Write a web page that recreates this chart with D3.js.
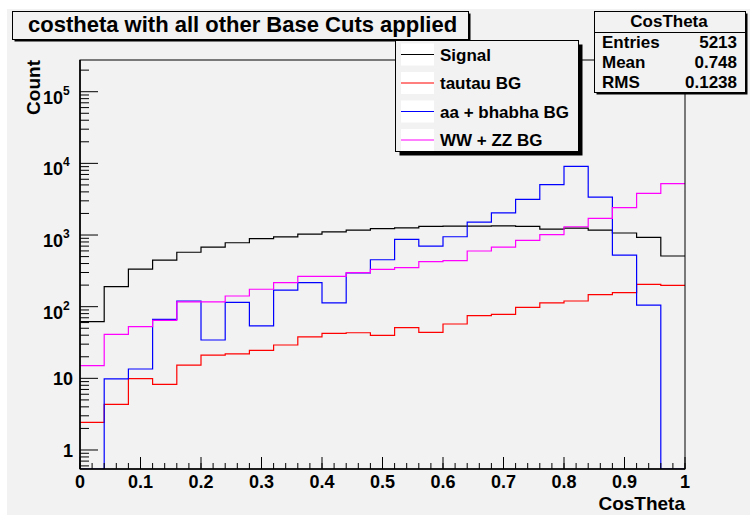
<!DOCTYPE html>
<html>
<head>
<meta charset="utf-8">
<script src="https://cdnjs.cloudflare.com/ajax/libs/d3/7.8.5/d3.min.js"></script>
<style>
	body { margin: 0; background: #fff; }
	text { font-family: "Liberation Sans", Arial, sans-serif; font-weight: bold; fill: #000; }
</style>
</head>
<body>
<div id="container"></div>
<script>

// bin edges of the CosTheta histograms
var binEdges = [0, 0.04, 0.08, 0.12, 0.16, 0.2, 0.24, 0.28, 0.32, 0.36, 0.4, 0.44, 0.48,
	0.52, 0.56, 0.6, 0.64, 0.68, 0.72, 0.76, 0.8, 0.84, 0.88, 0.92, 0.96, 1];

var signal = [62, 190, 335, 447, 575, 680, 780, 890, 940, 1030, 1110, 1170, 1230,
	1260, 1320, 1335, 1335, 1340, 1320, 1210, 1250, 1170, 1067, 930, 510];
var tautau = [2.43, 4.34, 9.9, 8.26, 15.3, 21.1, 21.9, 24.6, 29.2, 38, 42.5, 43.3, 39.8,
	50.9, 43.8, 57.3, 74.8, 78.2, 98, 113, 120, 147, 157, 205, 198];
var aabhabha = [0, 9.8, 13.5, 66.5, 120, 34.3, 115, 53.8, 170, 216, 113, 295, 452,
	870, 701, 946, 1515, 2040, 3150, 5050, 9100, 3390, 525, 105, 0];
var wwzz = [15, 41, 52.6, 64.5, 117, 117, 141, 175, 216, 264, 264, 298, 331,
	350, 425, 440, 598, 680, 842, 1010, 1305, 1710, 2410, 3820, 5200];

var legendNames = ["Signal", "tautau BG", "aa + bhabha BG", "WW + ZZ BG"];
var xTicks = [0, 0.1, 0.2, 0.3, 0.4, 0.5, 0.6, 0.7, 0.8, 0.9, 1];
var xTickLabels = ["0", "0.1", "0.2", "0.3", "0.4", "0.5", "0.6", "0.7", "0.8", "0.9", "1"];
var yTicks = [1, 10, 100, 1000, 10000, 100000];
var yTickExp = ["", "", "2", "3", "4", "5"];
var statNames = ["Entries", "Mean", "RMS"];
var statValues = ["5213", "0.748", "0.1238"];

function costheta_plot(){

	var W = 750, H = 515;
	var frame = {left: 80, right: 685, top: 60, bottom: 469};
	var bg = "#f2f2f2";

	var svg = d3.select("#container")
		.append("svg")
		.attr("width", W)
		.attr("height", H);

	// pad
	svg.append("rect")
		.attr("x", 7).attr("y", 9)
		.attr("width", W - 7).attr("height", H - 9)
		.attr("fill", bg);

	var x = d3.scaleLinear().domain([0, 1]).range([frame.left, frame.right]);
	var y = d3.scaleLog().domain([0.543, 2.77e5]).range([frame.bottom, frame.top]);

	svg.append("clipPath").attr("id", "clip")
		.append("rect")
		.attr("x", frame.left).attr("y", frame.top)
		.attr("width", frame.right - frame.left)
		.attr("height", frame.bottom - frame.top);

	var series = [
		{values: signal, color: "#000000"},
		{values: tautau, color: "#ff0000"},
		{values: aabhabha, color: "#0000ff"},
		{values: wwzz, color: "#ff00ff"}
	];

	var step = d3.line()
		.curve(d3.curveStepAfter)
		.x(function(d) { return x(d[0]); })
		.y(function(d) { return y(Math.max(d[1], 0.543)); });

	var plot = svg.append("g").attr("clip-path", "url(#clip)");

	series.forEach(function(s) {
		var pts = s.values.map(function(v, i) { return [binEdges[i], v]; });
		pts.push([binEdges[binEdges.length - 1], s.values[s.values.length - 1]]);
		plot.append("path")
			.datum(pts)
			.attr("d", step)
			.attr("fill", "none")
			.attr("stroke", s.color)
			.attr("stroke-width", 1.2);
	});

	// frame
	svg.append("rect")
		.attr("x", frame.left).attr("y", frame.top)
		.attr("width", frame.right - frame.left)
		.attr("height", frame.bottom - frame.top)
		.attr("fill", "none")
		.attr("stroke", "#000")
		.attr("stroke-width", 1);

	// x axis ticks, pointing up
	var xMinor = d3.range(0, 51).map(function(i) { return i / 50; });
	svg.append("g").selectAll("line")
		.data(xMinor)
		.enter().append("line")
		.attr("x1", function(d) { return x(d); })
		.attr("x2", function(d) { return x(d); })
		.attr("y1", frame.bottom)
		.attr("y2", frame.bottom - 6)
		.attr("stroke", "#000");
	svg.append("g").selectAll("line")
		.data(xTicks)
		.enter().append("line")
		.attr("x1", function(d) { return x(d); })
		.attr("x2", function(d) { return x(d); })
		.attr("y1", frame.bottom)
		.attr("y2", frame.bottom - 12)
		.attr("stroke", "#000");
	svg.append("g").selectAll("text")
		.data(xTicks)
		.enter().append("text")
		.attr("x", function(d) { return x(d); })
		.attr("y", 488)
		.attr("text-anchor", "middle")
		.attr("font-size", "18px")
		.text(function(d, i) { return xTickLabels[i]; });

	// y axis ticks, pointing right
	var yMinor = [];
	[0.1, 1, 10, 100, 1000, 10000, 100000].forEach(function(dec) {
		for (var k = 2; k <= 9; k++) {
			var v = k * dec;
			if (v > y.domain()[0] && v < y.domain()[1]) yMinor.push(v);
		}
	});
	svg.append("g").selectAll("line")
		.data(yMinor)
		.enter().append("line")
		.attr("x1", frame.left)
		.attr("x2", frame.left + 9)
		.attr("y1", function(d) { return y(d); })
		.attr("y2", function(d) { return y(d); })
		.attr("stroke", "#000");
	svg.append("g").selectAll("line")
		.data(yTicks)
		.enter().append("line")
		.attr("x1", frame.left)
		.attr("x2", frame.left + 18)
		.attr("y1", function(d) { return y(d); })
		.attr("y2", function(d) { return y(d); })
		.attr("stroke", "#000");

	var yl = svg.append("g").selectAll("text")
		.data(yTicks)
		.enter().append("text")
		.attr("x", function(d, i) { return yTickExp[i] ? 63 : 73; })
		.attr("y", function(d, i) { return y(d) + (yTickExp[i] ? 12 : 7); })
		.attr("text-anchor", "end")
		.attr("font-size", "18px")
		.text(function(d, i) { return i == 0 ? "1" : "10"; });
	svg.append("g").selectAll("text")
		.data(yTicks.filter(function(d, i) { return yTickExp[i]; }))
		.enter().append("text")
		.attr("x", 63)
		.attr("y", function(d) { return y(d) + 3; })
		.attr("font-size", "12px")
		.text(function(d) { return yTickExp[yTicks.indexOf(d)]; });

	// axis lines
	svg.append("line")
		.attr("x1", frame.left).attr("x2", frame.left)
		.attr("y1", frame.top).attr("y2", frame.bottom)
		.attr("stroke", "#000").attr("stroke-width", 1.6);
	svg.append("line")
		.attr("x1", frame.left).attr("x2", frame.right)
		.attr("y1", frame.bottom).attr("y2", frame.bottom)
		.attr("stroke", "#000").attr("stroke-width", 1.6);

	// axis titles
	svg.append("text")
		.attr("x", frame.right)
		.attr("y", 510)
		.attr("text-anchor", "end")
		.attr("font-size", "19px")
		.text("CosTheta");
	svg.append("text")
		.attr("transform", "translate(40," + frame.top + ") rotate(-90)")
		.attr("text-anchor", "end")
		.attr("font-size", "19px")
		.text("Count");

	// title box
	function box(bx, by, bw, bh, shadow){
		svg.append("rect")
			.attr("x", bx + shadow).attr("y", by + shadow)
			.attr("width", bw).attr("height", bh)
			.attr("fill", "#000");
		svg.append("rect")
			.attr("x", bx).attr("y", by)
			.attr("width", bw).attr("height", bh)
			.attr("fill", bg)
			.attr("stroke", "#000")
			.attr("stroke-width", 1);
	}

	box(12.5, 11.5, 456, 28, 2);
	svg.append("text")
		.attr("x", 28)
		.attr("y", 32)
		.attr("font-size", "22px")
		.text("costheta with all other Base Cuts applied");

	// legend
	box(395.5, 40.5, 183, 111, 4);
	var rowY = [54.5, 83, 111.5, 140];
	legendNames.forEach(function(name, i) {
		svg.append("rect")
			.attr("x", 401).attr("y", rowY[i] - 11)
			.attr("width", 33).attr("height", 22)
			.attr("fill", "#fff");
		svg.append("line")
			.attr("x1", 401).attr("x2", 434)
			.attr("y1", rowY[i]).attr("y2", rowY[i])
			.attr("stroke", series[i].color)
			.attr("stroke-width", 1.2);
		svg.append("text")
			.attr("x", 440)
			.attr("y", rowY[i] + 6)
			.attr("font-size", "17px")
			.text(name);
	});

	// stats box
	box(594.5, 11.5, 151, 81, 2);
	svg.append("line")
		.attr("x1", 594.5).attr("x2", 745.5)
		.attr("y1", 32.5).attr("y2", 32.5)
		.attr("stroke", "#000");
	svg.append("text")
		.attr("x", 669)
		.attr("y", 27)
		.attr("text-anchor", "middle")
		.attr("font-size", "17px")
		.text("CosTheta");
	statNames.forEach(function(name, i) {
		svg.append("text")
			.attr("x", 602)
			.attr("y", 48 + i * 20)
			.attr("font-size", "17px")
			.text(name);
		svg.append("text")
			.attr("x", 737)
			.attr("y", 48 + i * 20)
			.attr("text-anchor", "end")
			.attr("font-size", "17px")
			.text(statValues[i]);
	});
}

costheta_plot();
</script>
</body>
</html>
